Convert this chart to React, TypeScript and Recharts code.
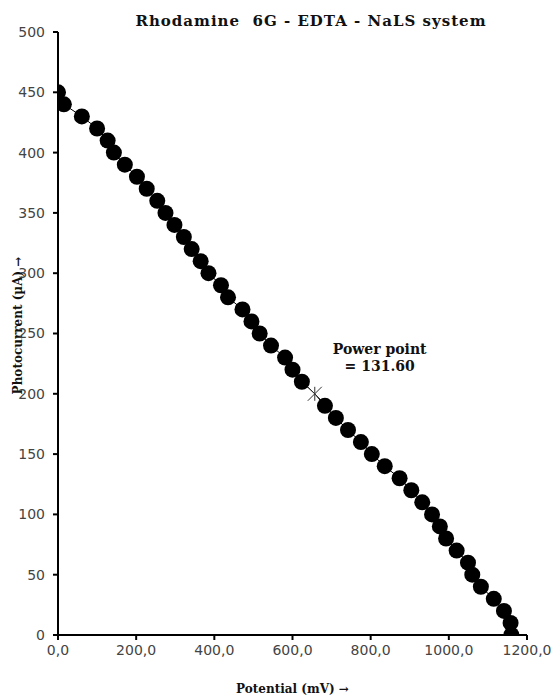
import { ScatterChart, Scatter, XAxis, YAxis, ReferenceDot, Label } from 'recharts'

// potential (mV) and photocurrent (µA)
const potential = [
  0, 15, 61, 100, 127, 143, 171, 202, 227, 254, 275, 298, 322, 342, 365, 385,
  417, 435, 472, 495, 516, 545, 581, 600, 624, 657, 683, 711, 742, 775, 803,
  836, 874, 904, 932, 957, 977, 993, 1020, 1049, 1060, 1082, 1115, 1141, 1158, 1160,
]
const current = [
  450, 440, 430, 420, 410, 400, 390, 380, 370, 360, 350, 340, 330, 320, 310, 300,
  290, 280, 270, 260, 250, 240, 230, 220, 210, 200, 190, 180, 170, 160, 150,
  140, 130, 120, 110, 100, 90, 80, 70, 60, 50, 40, 30, 20, 10, 0,
]
const powerPointIndex = 25
const powerPointLabel = ['Power point', '= 131.60']
const annotationAt = { x: 823, y: 233 }

const xTicks = [0, 200, 400, 600, 800, 1000, 1200]
const yTicks = [0, 50, 100, 150, 200, 250, 300, 350, 400, 450, 500]

const data = potential.map((x, i) => ({ x, y: current[i], power: i === powerPointIndex }))

const serif = '"DejaVu Serif", "Liberation Serif", serif'
const sans = '"DejaVu Sans", Verdana, sans-serif'

function Marker(props: any) {
  const { cx, cy, payload } = props
  if (payload && payload.power) {
    const s = 7
    return (
      <g stroke="#333" strokeWidth={1}>
        <line x1={cx - s} y1={cy - s} x2={cx + s} y2={cy + s} />
        <line x1={cx - s} y1={cy + s} x2={cx + s} y2={cy - s} />
        <line x1={cx} y1={cy - s} x2={cx} y2={cy + s} />
      </g>
    )
  }
  return <circle cx={cx} cy={cy} r={8} fill="#000" />
}

function Annotation(props: any) {
  const { cx, cy } = props
  return (
    <text x={cx} y={cy} textAnchor="middle" fontFamily={serif} fontWeight="bold" fontSize={14} fill="#111">
      <tspan x={cx} dy={0}>{powerPointLabel[0]}</tspan>
      <tspan x={cx} dy={17}>{powerPointLabel[1]}</tspan>
    </text>
  )
}

const fmtX = (v: number) => v.toFixed(1).replace('.', ',')

export default function App() {
  return (
    <div style={{ position: 'absolute', left: 0, top: 0, width: 556, height: 698, background: '#fff' }}>
      <div
        style={{
          position: 'absolute',
          left: 0,
          width: 622,
          top: 12,
          textAlign: 'center',
          fontFamily: serif,
          fontWeight: 'bold',
          fontSize: 15,
          letterSpacing: 1,
          whiteSpace: 'pre',
          color: '#111',
        }}
      >
        {'Rhodamine  6G - EDTA - NaLS system'}
      </div>
      <ScatterChart width={556} height={698} margin={{ top: 32, right: 29, bottom: 33, left: 0 }}>
        <XAxis
          type="number"
          dataKey="x"
          domain={[0, 1200]}
          ticks={xTicks}
          tickFormatter={fmtX}
          height={30}
          axisLine={{ stroke: '#000', strokeWidth: 2 }}
          tickLine={{ stroke: '#000', strokeWidth: 2 }}
          tickSize={5}
          tickMargin={5}
          tick={{ fontFamily: sans, fontSize: 14, fill: '#444' }}
          allowDataOverflow
        >
          <Label
            content={(p: any) => {
              const vb = p.viewBox
              return (
                <text
                  x={vb.x + vb.width / 2}
                  y={vb.y + 58}
                  textAnchor="middle"
                  fontFamily={serif}
                  fontWeight="bold"
                  fontSize={12}
                  fill="#111"
                >
                  Potential (mV) →
                </text>
              )
            }}
          />
        </XAxis>
        <YAxis
          type="number"
          dataKey="y"
          domain={[0, 500]}
          ticks={yTicks}
          width={58}
          axisLine={{ stroke: '#000', strokeWidth: 2 }}
          tickLine={{ stroke: '#000', strokeWidth: 2 }}
          tickSize={5}
          tickMargin={8}
          tick={{ fontFamily: sans, fontSize: 14, fill: '#444' }}
          allowDataOverflow
        >
          <Label
            content={(p: any) => {
              const vb = p.viewBox
              const cx = vb.x + 22
              const cy = vb.y + vb.height / 2 - 8
              return (
                <text
                  x={cx}
                  y={cy}
                  transform={`rotate(-90 ${cx} ${cy})`}
                  textAnchor="middle"
                  fontFamily={serif}
                  fontWeight="bold"
                  fontSize={12}
                  fill="#111"
                >
                  Photocurrent (µA) →
                </text>
              )
            }}
          />
        </YAxis>
        <Scatter
          data={data}
          line={{ stroke: '#000', strokeWidth: 1 }}
          lineType="joint"
          shape={Marker}
          isAnimationActive={false}
        />
        <ReferenceDot x={annotationAt.x} y={annotationAt.y} r={0} shape={Annotation} />
      </ScatterChart>
    </div>
  )
}
